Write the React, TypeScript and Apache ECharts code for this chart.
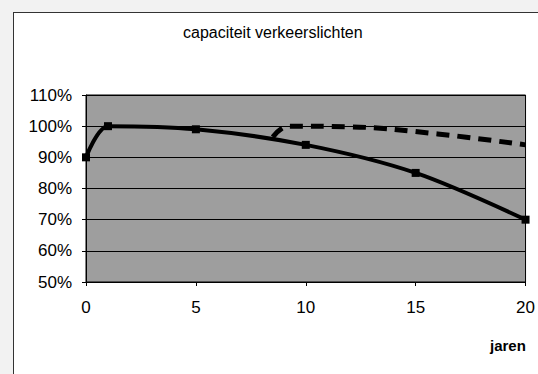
import React, { useEffect, useRef } from "react";
import * as echarts from "echarts";

const titleText = "capaciteit verkeerslichten";
const xAxisName = "jaren";

// solid series (with markers)
const yearsSolid = [0, 1, 5, 10, 15, 20];
const capaciteitSolid = [90, 100, 99, 94, 85, 70];

// dashed series (no markers)
const yearsDashed = [8.5, 9.2, 12, 16, 20];
const capaciteitDashed = [96.5, 100, 99.8, 97.5, 94];

const yMin = 50;
const yMax = 110;
const yStep = 10;
const xMin = 0;
const xMax = 20;
const xStep = 5;

const FONT = "'Liberation Sans', Arial, sans-serif";

export default function App() {
  const ref = useRef<HTMLDivElement>(null);

  useEffect(() => {
    if (!ref.current) return;
    const chart = echarts.init(ref.current, undefined, { renderer: "svg" });

    const solid = yearsSolid.map((x, i) => [x, capaciteitSolid[i]]);
    const dashed = yearsDashed.map((x, i) => [x, capaciteitDashed[i]]);

    chart.setOption({
      animation: false,
      backgroundColor: "transparent",
      grid: {
        left: 86,
        right: 12,
        top: 95,
        bottom: 92,
        show: true,
        backgroundColor: "#9e9e9e",
        borderColor: "#000",
        borderWidth: 1,
      },
      xAxis: {
        type: "value",
        min: xMin,
        max: xMax,
        interval: xStep,
        axisLine: { show: true, lineStyle: { color: "#000", width: 1 } },
        axisTick: { show: true, length: 4, lineStyle: { color: "#000" } },
        splitLine: { show: false },
        axisLabel: {
          color: "#000",
          fontSize: 17,
          fontFamily: FONT,
          margin: 17,
        },
      },
      yAxis: {
        type: "value",
        min: yMin,
        max: yMax,
        interval: yStep,
        axisLine: { show: true, lineStyle: { color: "#000", width: 1 } },
        axisTick: { show: true, length: 4, lineStyle: { color: "#000" } },
        splitLine: { show: true, lineStyle: { color: "#000", width: 1 } },
        axisLabel: {
          color: "#000",
          fontSize: 17,
          fontFamily: FONT,
          margin: 14,
          formatter: (v: number) => `${v}%`,
        },
      },
      graphic: [
        {
          type: "text",
          left: 183,
          top: 24,
          style: {
            text: titleText,
            fill: "#000",
            fontSize: 16,
            fontFamily: FONT,
          },
        },
        {
          type: "text",
          left: 490,
          top: 338,
          style: {
            text: xAxisName,
            fill: "#000",
            fontSize: 15,
            fontWeight: "bold",
            fontFamily: FONT,
          },
        },
      ],
      series: [
        {
          type: "line",
          data: solid,
          smooth: 0.3,
          symbol: "rect",
          symbolSize: 8,
          itemStyle: { color: "#000" },
          lineStyle: { color: "#000", width: 4 },
          z: 3,
        },
        {
          type: "line",
          data: dashed,
          smooth: 0.4,
          symbol: "none",
          lineStyle: { color: "#000", width: 5, type: [13, 8] },
          z: 2,
        },
      ],
    });

    return () => chart.dispose();
  }, []);

  return (
    <div
      style={{
        position: "fixed",
        left: 0,
        top: 0,
        width: 538,
        height: 374,
        background: "#f2f2f2",
        overflow: "hidden",
      }}
    >
      <div
        style={{
          position: "absolute",
          left: 13,
          top: 12,
          width: 540,
          height: 380,
          background: "#fff",
          borderLeft: "1px solid #333",
          borderTop: "1px solid #333",
        }}
      />
      <div
        ref={ref}
        style={{ position: "absolute", left: 0, top: 0, width: 538, height: 374 }}
      />
    </div>
  );
}
